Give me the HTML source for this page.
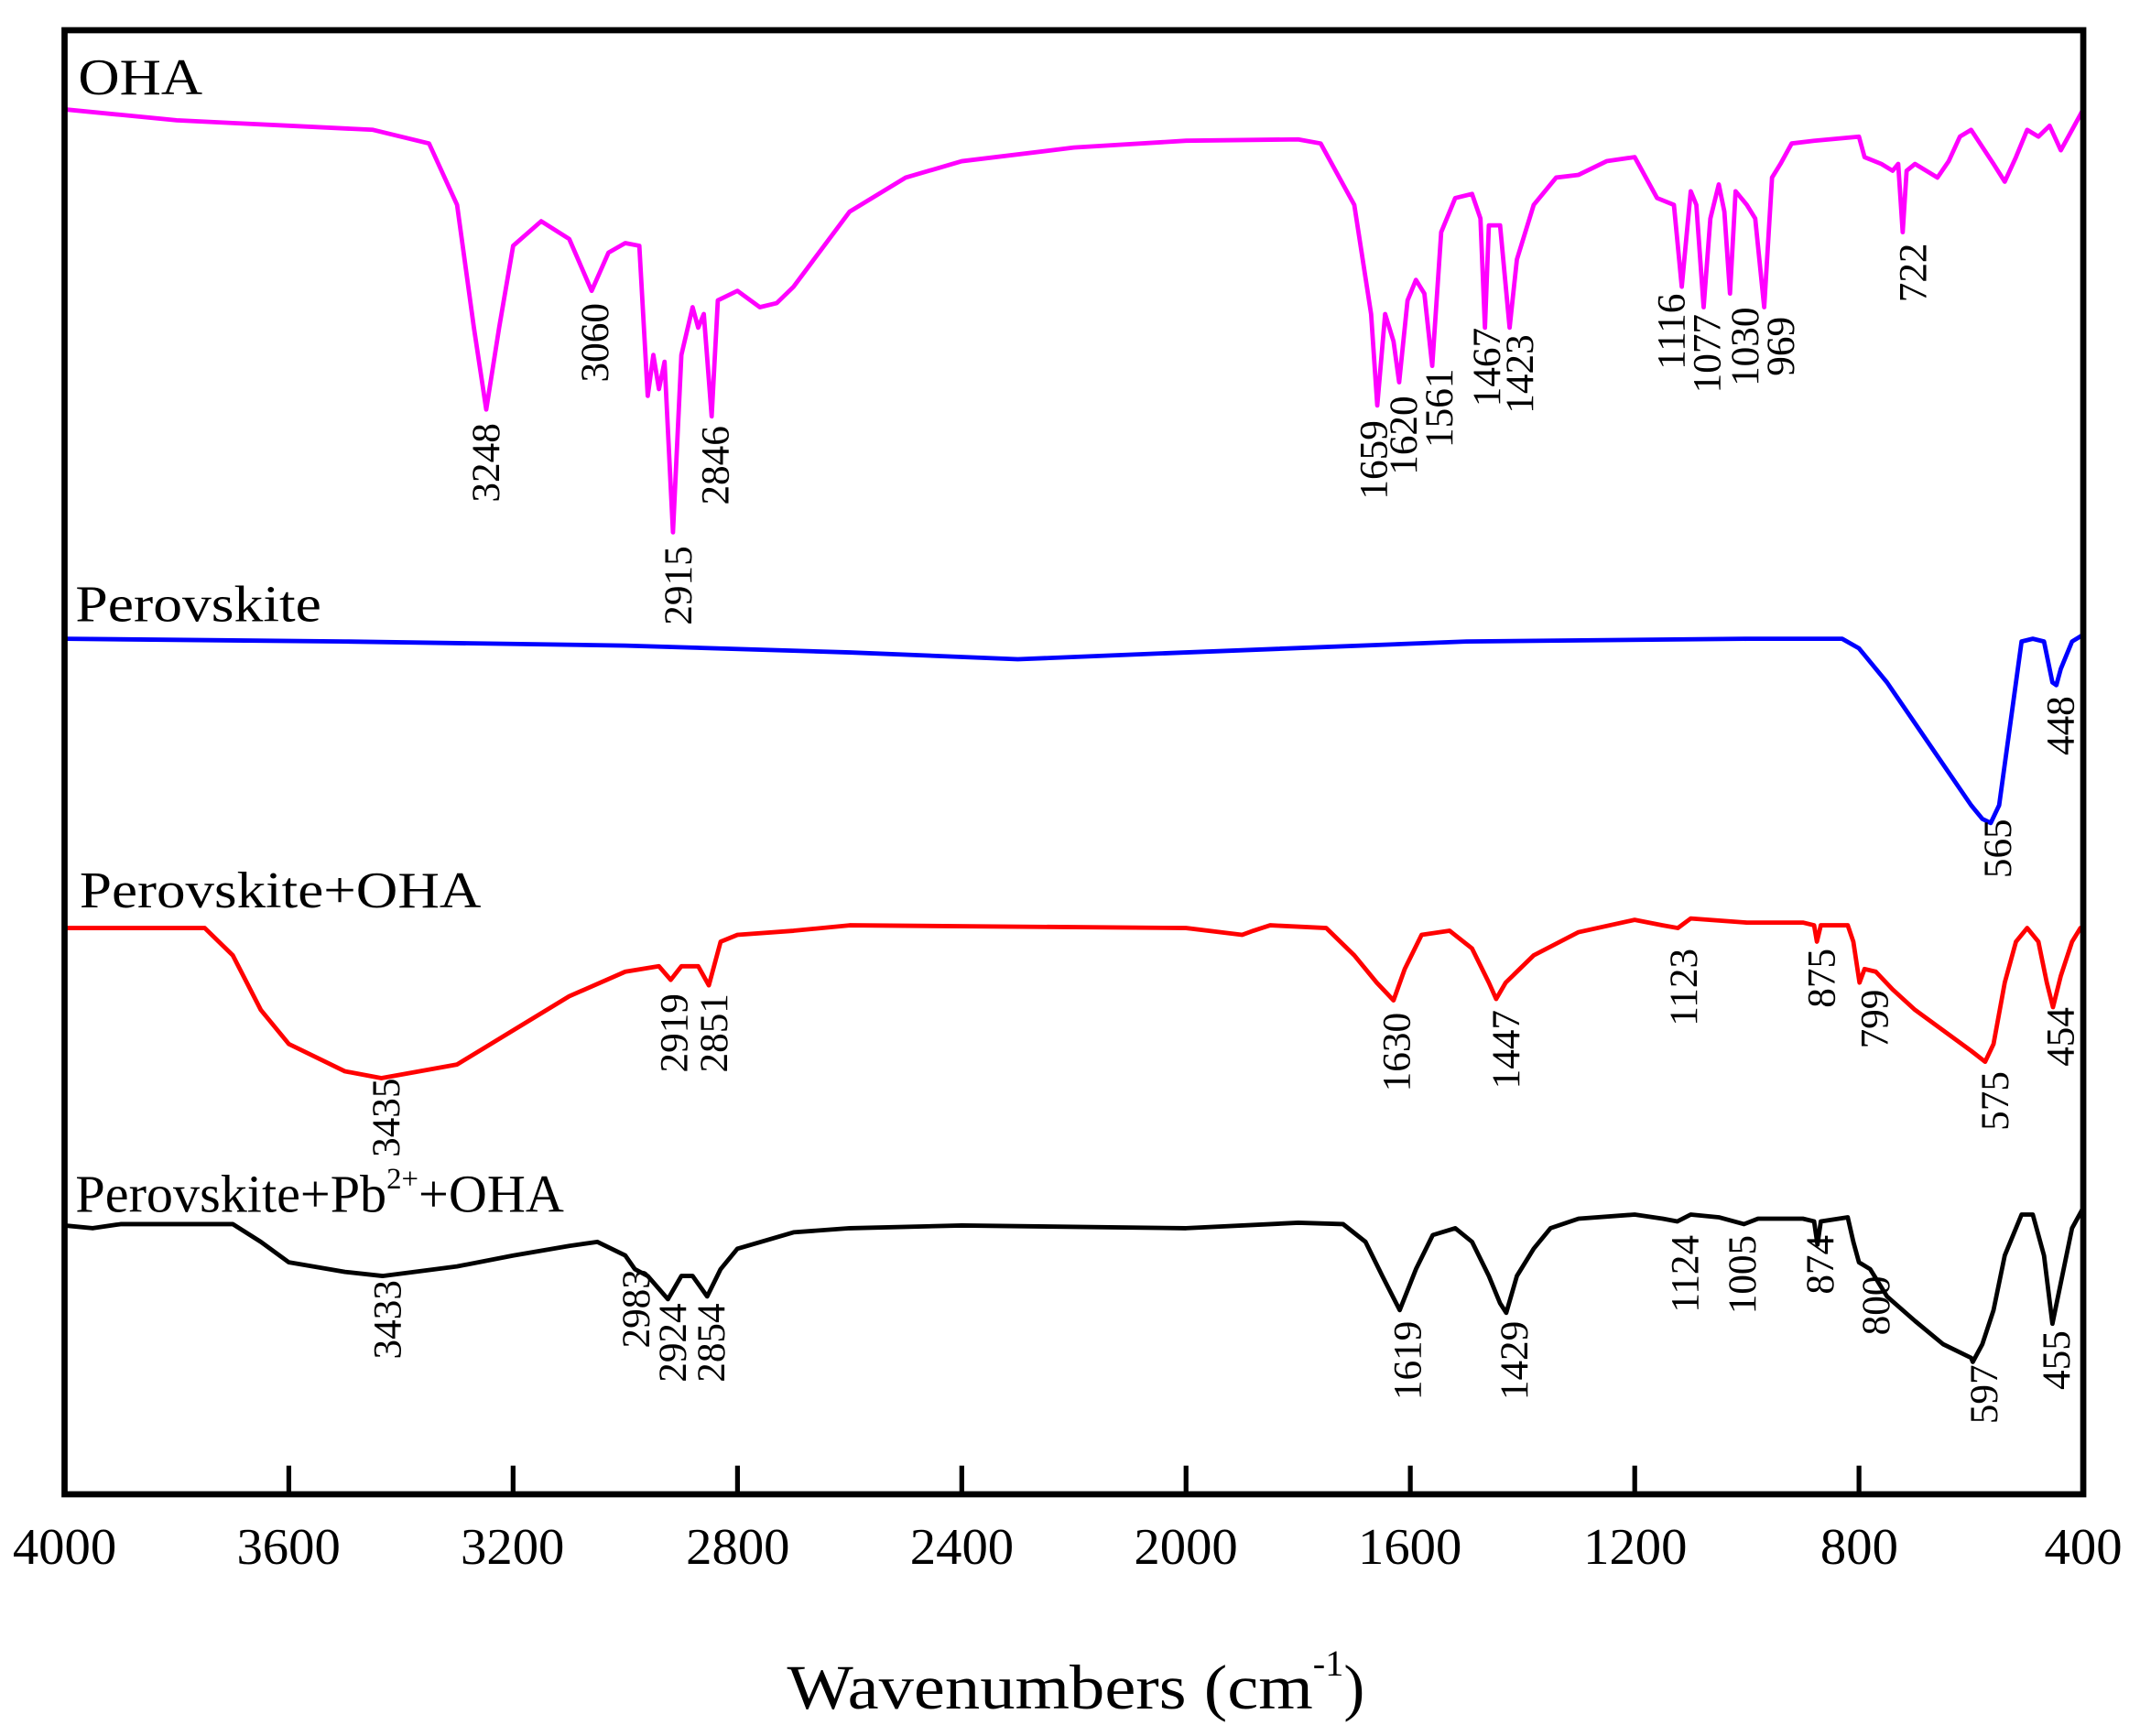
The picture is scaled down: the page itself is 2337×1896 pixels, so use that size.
<!DOCTYPE html>
<html><head><meta charset="utf-8"><style>html,body{margin:0;padding:0;background:#fff}svg{display:block}</style></head>
<body>
<svg width="2337" height="1896" viewBox="0 0 1558 1264" xmlns="http://www.w3.org/2000/svg" font-family="'Liberation Serif',serif">
<rect x="0" y="0" width="1558" height="1264" fill="#fff"/>
<g transform="translate(47,22) scale(0.99438,0.99348) translate(-47,-22)">
<g fill="none" stroke-width="4.8" stroke-linejoin="round" transform="matrix(-0.410556 0 0 1 1689.22 0)">
<polyline vector-effect="non-scaling-stroke" stroke="#ff00ff" points="4000,80 3900,84 3800,88 3700,90 3600,92 3450,95 3350,105 3300,150 3270,240 3248,300 3225,240 3200,180 3150,162 3100,175 3060,213 3030,185 3000,178 2975,180 2960,290 2950,260 2940,285 2930,265 2915,390 2900,260 2880,225 2870,240 2860,230 2846,305 2835,220 2800,213 2760,225 2730,222 2700,210 2600,155 2500,130 2400,118 2200,108 2000,103 1800,102 1760,105 1700,150 1670,230 1659,297 1645,230 1630,250 1620,280 1605,220 1590,205 1575,215 1561,268 1545,170 1520,145 1490,142 1475,160 1467,240 1460,165 1440,165 1423,240 1410,190 1380,150 1340,130 1300,128 1250,118 1200,115 1180,130 1160,145 1130,150 1116,210 1100,140 1090,150 1077,225 1065,160 1050,135 1040,155 1030,215 1020,140 1000,150 985,160 969,225 955,130 940,120 920,105 880,103 800,100 790,115 760,120 740,125 730,120 722,170 715,125 700,120 660,130 640,118 620,100 600,95 560,120 540,133 520,115 500,95 480,100 460,92 440,110 420,95 400,80"/>
<polyline vector-effect="non-scaling-stroke" stroke="#0000ff" points="4000,468 3500,470 3000,473 2600,478 2300,483 2000,478 1500,470 1000,468 830,468 800,475 750,500 700,530 650,560 600,590 580,600 565,603 550,590 530,530 510,470 490,468 470,470 455,500 448,502 440,490 420,470 400,465"/>
<polyline vector-effect="non-scaling-stroke" stroke="#ff0000" points="4000,680 3750,680 3700,700 3650,740 3600,765 3500,785 3435,790 3300,780 3200,755 3100,730 3000,712 2940,708 2919,718 2900,708 2870,708 2851,722 2830,690 2800,685 2700,682 2600,678 2000,680 1900,685 1880,682 1850,678 1750,680 1700,700 1660,720 1630,733 1610,710 1580,685 1530,682 1490,695 1460,720 1447,732 1430,720 1380,700 1300,683 1200,674 1150,678 1123,680 1100,673 1000,676 900,676 880,678 875,690 868,678 820,678 810,690 799,720 790,710 770,712 740,725 700,740 650,755 600,770 575,778 560,765 540,720 520,690 500,680 480,690 465,720 454,738 440,715 420,690 405,680 400,680"/>
<polyline vector-effect="non-scaling-stroke" stroke="#000" points="4000,898 3950,900 3900,897 3700,897 3650,910 3600,925 3500,932 3433,935 3300,928 3200,920 3100,913 3050,910 3000,920 2983,930 2960,935 2924,952 2900,935 2880,935 2854,950 2830,930 2800,915 2700,903 2600,900 2400,898 2000,900 1800,896 1720,897 1680,910 1650,935 1619,960 1590,930 1560,905 1520,900 1490,910 1460,935 1440,955 1429,962 1410,935 1380,915 1350,900 1300,893 1200,890 1150,893 1124,895 1100,890 1050,892 1005,897 980,893 900,893 880,895 874,912 868,895 820,892 810,910 800,925 780,930 750,950 700,968 650,985 600,995 597,998 580,985 560,960 540,920 510,890 490,890 470,920 455,970 440,940 420,900 400,885"/>
</g>
<rect x="47" y="22" width="1478" height="1073" fill="none" stroke="#000" stroke-width="4.5"/>
<g stroke="#000" stroke-width="3.5">
<line x1="211.2" y1="1074" x2="211.2" y2="1095"/><line x1="375.4" y1="1074" x2="375.4" y2="1095"/><line x1="539.7" y1="1074" x2="539.7" y2="1095"/><line x1="703.9" y1="1074" x2="703.9" y2="1095"/><line x1="868.1" y1="1074" x2="868.1" y2="1095"/><line x1="1032.3" y1="1074" x2="1032.3" y2="1095"/><line x1="1196.6" y1="1074" x2="1196.6" y2="1095"/><line x1="1360.8" y1="1074" x2="1360.8" y2="1095"/>
</g>
<g font-size="38" text-anchor="middle" fill="#000">
<text x="47" y="1146">4000</text><text x="211" y="1146">3600</text><text x="375" y="1146">3200</text><text x="540" y="1146">2800</text><text x="704" y="1146">2400</text><text x="868" y="1146">2000</text><text x="1032" y="1146">1600</text><text x="1197" y="1146">1200</text><text x="1361" y="1146">800</text><text x="1525" y="1146">400</text>
</g>
<text x="576" y="1252" font-size="46"><tspan textLength="385" lengthAdjust="spacingAndGlyphs">Wavenumbers (cm</tspan><tspan font-size="27" dy="-24">-1</tspan><tspan dy="24">)</tspan></text>
<g font-size="38" fill="#000">
<text x="57" y="69" textLength="91" lengthAdjust="spacingAndGlyphs">OHA</text>
<text x="55" y="455" textLength="180" lengthAdjust="spacingAndGlyphs">Perovskite</text>
<text x="58" y="665" textLength="294" lengthAdjust="spacingAndGlyphs">Perovskite+OHA</text>
<text x="55" y="888" font-size="39">Perovskite+Pb<tspan font-size="22" dy="-17">2+</tspan><tspan dy="17">+OHA</tspan></text>
</g>
<g font-size="29" text-anchor="end" fill="#000">
<text transform="translate(365,310) rotate(-90)">3248</text>
<text transform="translate(445,222) rotate(-90)">3060</text>
<text transform="translate(506,400) rotate(-90)">2915</text>
<text transform="translate(533,312) rotate(-90)">2846</text>
<text transform="translate(1015,308) rotate(-90)">1659</text>
<text transform="translate(1037,290) rotate(-90)">1620</text>
<text transform="translate(1063,270) rotate(-90)">1561</text>
<text transform="translate(1098,240) rotate(-90)">1467</text>
<text transform="translate(1122,245) rotate(-90)">1423</text>
<text transform="translate(1233,215) rotate(-90)">1116</text>
<text transform="translate(1259,230) rotate(-90)">1077</text>
<text transform="translate(1287,225) rotate(-90)">1030</text>
<text transform="translate(1313,232) rotate(-90)">969</text>
<text transform="translate(1410,178) rotate(-90)">722</text>
<text transform="translate(1518,510) rotate(-90)">448</text>
<text transform="translate(1472,600) rotate(-90)">565</text>
<text transform="translate(503,728) rotate(-90)">2919</text>
<text transform="translate(532,728) rotate(-90)">2851</text>
<text transform="translate(292,790) rotate(-90)">3435</text>
<text transform="translate(1032,742) rotate(-90)">1630</text>
<text transform="translate(1112,740) rotate(-90)">1447</text>
<text transform="translate(1242,695) rotate(-90)">1123</text>
<text transform="translate(1343,695) rotate(-90)">875</text>
<text transform="translate(1382,725) rotate(-90)">799</text>
<text transform="translate(1470,785) rotate(-90)">575</text>
<text transform="translate(1518,738) rotate(-90)">454</text>
<text transform="translate(293,938) rotate(-90)">3433</text>
<text transform="translate(475,930) rotate(-90)">2983</text>
<text transform="translate(502,955) rotate(-90)">2924</text>
<text transform="translate(530,955) rotate(-90)">2854</text>
<text transform="translate(1040,968) rotate(-90)">1619</text>
<text transform="translate(1118,968) rotate(-90)">1429</text>
<text transform="translate(1243,905) rotate(-90)">1124</text>
<text transform="translate(1285,905) rotate(-90)">1005</text>
<text transform="translate(1342,905) rotate(-90)">874</text>
<text transform="translate(1383,935) rotate(-90)">800</text>
<text transform="translate(1462,1000) rotate(-90)">597</text>
<text transform="translate(1515,975) rotate(-90)">455</text>
</g>
</g>
</svg>
</body></html>
